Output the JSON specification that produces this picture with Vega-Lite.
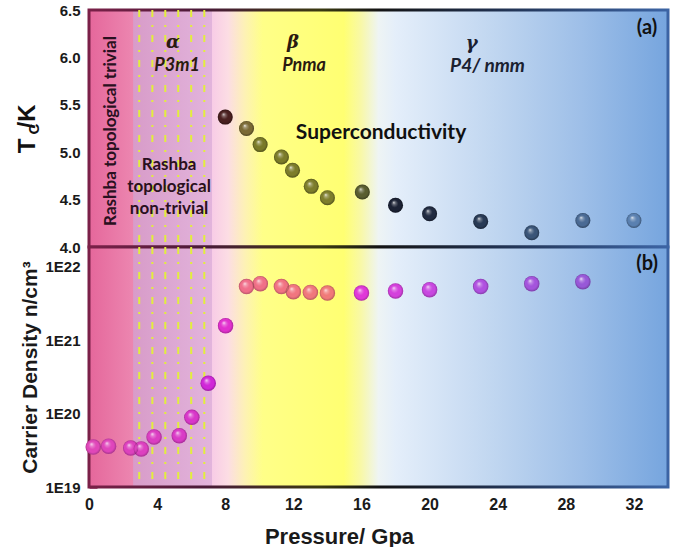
{
  "$schema": "https://vega.github.io/schema/vega-lite/v6.json",
  "padding": {"left": 16, "top": 3, "right": 5, "bottom": 0},
  "background": "white",
  "spacing": 0,
  "bounds": "flush",
  "resolve": {"scale": {"color": "independent"}},
  "config": {"view": {"stroke": null}},
  "datasets": {
    "tc": [
      {"P": 8.0, "Tc": 5.37}, {"P": 9.25, "Tc": 5.25}, {"P": 10.05, "Tc": 5.08},
      {"P": 11.3, "Tc": 4.95}, {"P": 11.95, "Tc": 4.81}, {"P": 13.05, "Tc": 4.64},
      {"P": 14.0, "Tc": 4.52}, {"P": 16.05, "Tc": 4.58}, {"P": 18.0, "Tc": 4.44},
      {"P": 20.0, "Tc": 4.35}, {"P": 23.0, "Tc": 4.27}, {"P": 26.0, "Tc": 4.15},
      {"P": 29.0, "Tc": 4.28}, {"P": 32.0, "Tc": 4.28}
    ],
    "cd": [
      {"P": 0.25, "n": 3.5e19}, {"P": 1.15, "n": 3.6e19}, {"P": 2.45, "n": 3.4e19},
      {"P": 3.07, "n": 3.3e19}, {"P": 3.82, "n": 4.8e19}, {"P": 5.3, "n": 5.0e19},
      {"P": 6.04, "n": 8.9e19}, {"P": 7.0, "n": 2.6e20}, {"P": 8.02, "n": 1.58e21},
      {"P": 9.25, "n": 5.4e21}, {"P": 10.06, "n": 5.9e21}, {"P": 11.3, "n": 5.4e21},
      {"P": 12.0, "n": 4.6e21}, {"P": 13.0, "n": 4.5e21}, {"P": 14.0, "n": 4.4e21},
      {"P": 16.0, "n": 4.4e21}, {"P": 18.0, "n": 4.7e21}, {"P": 20.0, "n": 4.9e21},
      {"P": 23.0, "n": 5.4e21}, {"P": 26.0, "n": 5.9e21}, {"P": 29.0, "n": 6.3e21}
    ],
    "dash": [{"P": 2.95}, {"P": 3.72}, {"P": 4.48}, {"P": 5.24}, {"P": 6.0}, {"P": 6.77}],
    "one": [{}]
  },
  "vconcat": [
    {
      "width": 579,
      "height": 237,
      "resolve": {"axis": {"x": "independent", "y": "independent"}},
      "layer": [
        {
          "data": {"name": "one"},
          "mark": {
            "type": "rect",
            "fill": {"gradient": "linear", "x1": 0, "y1": 0, "x2": 1, "y2": 0, "stops": [
              {"offset": 0, "color": "#e5679b"}, {"offset": 0.076, "color": "#ec86b0"},
              {"offset": 0.077, "color": "#d89cc9"}, {"offset": 0.212, "color": "#e2b4dc"},
              {"offset": 0.213, "color": "#f8cce6"}, {"offset": 0.24, "color": "#fcdde4"},
              {"offset": 0.27, "color": "#fdf2b4"}, {"offset": 0.30, "color": "#ffff88"},
              {"offset": 0.44, "color": "#ffff72"}, {"offset": 0.47, "color": "#f8f8a8"},
              {"offset": 0.50, "color": "#eef4f4"}, {"offset": 0.53, "color": "#e4eefa"},
              {"offset": 0.70, "color": "#c0d6f0"}, {"offset": 0.85, "color": "#9ebfe8"},
              {"offset": 1, "color": "#76a5de"}]},
            "stroke": {"gradient": "linear", "x1": 0, "y1": 0, "x2": 1, "y2": 0, "stops": [
              {"offset": 0, "color": "#7a2048"}, {"offset": 0.2, "color": "#4a1a38"},
              {"offset": 0.4, "color": "#3a3a10"}, {"offset": 0.5, "color": "#141414"},
              {"offset": 0.7, "color": "#20304e"}, {"offset": 1, "color": "#3c64a4"}]},
            "strokeWidth": 3
          },
          "encoding": {
            "x": {"datum": 0, "type": "quantitative", "axis": null},
            "x2": {"datum": 34},
            "y": {"datum": 4.0, "type": "quantitative", "axis": null},
            "y2": {"datum": 6.5}
          }
        },
        {
          "data": {"name": "dash"},
          "mark": {"type": "rule", "stroke": "#e2ee3c", "strokeWidth": 2, "strokeDash": [7, 8, 2, 8]},
          "encoding": {"x": {"field": "P", "type": "quantitative", "axis": null}}
        },
        {
          "data": {"name": "one"},
          "mark": {"type": "text", "angle": 270, "font": "Lato", "fontWeight": "bold", "fontSize": 17, "color": "#2a1020", "align": "center", "baseline": "middle"},
          "encoding": {"x": {"datum": 1.32, "type": "quantitative", "axis": null}, "y": {"datum": 5.224, "type": "quantitative", "axis": null}, "text": {"value": "Rashba  topological  trivial"}}
        },
        {
          "data": {"name": "one"},
          "mark": {"type": "text", "font": "Lato", "fontWeight": "bold", "fontSize": 17, "color": "#2a1020", "align": "center", "baseline": "middle", "lineBreak": "\n", "lineHeight": 22},
          "encoding": {"x": {"datum": 4.7, "type": "quantitative", "axis": null}, "y": {"datum": 4.865, "type": "quantitative", "axis": null}, "text": {"value": "Rashba\ntopological\nnon-trivial"}}
        },
        {
          "data": {"name": "one"},
          "mark": {"type": "text", "font": "DejaVu Serif", "fontWeight": "bold", "fontStyle": "italic", "fontSize": 18, "color": "#2a1a10", "align": "center", "baseline": "middle"},
          "encoding": {"x": {"datum": 4.93, "type": "quantitative", "axis": null}, "y": {"datum": 6.15, "type": "quantitative", "axis": null}, "text": {"value": "α"}}
        },
        {
          "data": {"name": "one"},
          "mark": {"type": "text", "font": "Lato", "fontWeight": "bold", "fontStyle": "italic", "fontSize": 18, "color": "#2a1a10", "align": "center", "baseline": "middle"},
          "encoding": {"x": {"datum": 5.17, "type": "quantitative", "axis": null}, "y": {"datum": 5.91, "type": "quantitative", "axis": null}, "text": {"value": "P3m1"}}
        },
        {
          "data": {"name": "one"},
          "mark": {"type": "text", "font": "DejaVu Serif", "fontWeight": "bold", "fontStyle": "italic", "fontSize": 18, "color": "#2a1a10", "align": "center", "baseline": "middle"},
          "encoding": {"x": {"datum": 11.98, "type": "quantitative", "axis": null}, "y": {"datum": 6.15, "type": "quantitative", "axis": null}, "text": {"value": "β"}}
        },
        {
          "data": {"name": "one"},
          "mark": {"type": "text", "font": "Lato", "fontWeight": "bold", "fontStyle": "italic", "fontSize": 18, "color": "#2a1a10", "align": "center", "baseline": "middle"},
          "encoding": {"x": {"datum": 12.63, "type": "quantitative", "axis": null}, "y": {"datum": 5.91, "type": "quantitative", "axis": null}, "text": {"value": "Pnma"}}
        },
        {
          "data": {"name": "one"},
          "mark": {"type": "text", "font": "DejaVu Serif", "fontWeight": "bold", "fontStyle": "italic", "fontSize": 18, "color": "#1a2030", "align": "center", "baseline": "middle"},
          "encoding": {"x": {"datum": 22.47, "type": "quantitative", "axis": null}, "y": {"datum": 6.14, "type": "quantitative", "axis": null}, "text": {"value": "γ"}}
        },
        {
          "data": {"name": "one"},
          "mark": {"type": "text", "font": "Lato", "fontWeight": "bold", "fontStyle": "italic", "fontSize": 19, "color": "#1a2030", "align": "center", "baseline": "middle"},
          "encoding": {"x": {"datum": 23.4, "type": "quantitative", "axis": null}, "y": {"datum": 5.91, "type": "quantitative", "axis": null}, "text": {"value": "P4/ nmm"}}
        },
        {
          "data": {"name": "one"},
          "mark": {"type": "text", "font": "Lato", "fontWeight": "bold", "fontSize": 21, "color": "#111111", "align": "center", "baseline": "middle"},
          "encoding": {"x": {"datum": 17.15, "type": "quantitative", "axis": null}, "y": {"datum": 5.2, "type": "quantitative", "axis": null}, "text": {"value": "Superconductivity"}}
        },
        {
          "data": {"name": "one"},
          "mark": {"type": "text", "font": "Lato", "fontWeight": "bold", "fontSize": 20, "color": "#111111", "align": "center", "baseline": "middle"},
          "encoding": {"x": {"datum": 32.77, "type": "quantitative", "axis": null}, "y": {"datum": 6.31, "type": "quantitative", "axis": null}, "text": {"value": "(a)"}}
        },
        {
          "data": {"name": "one"},
          "mark": {"type": "text", "angle": 270, "font": "Liberation Sans", "fontWeight": "bold", "fontSize": 24, "color": "#111111", "align": "center", "baseline": "middle"},
          "encoding": {"x": {"datum": -3.58, "type": "quantitative", "axis": null}, "y": {"datum": 5.065, "type": "quantitative", "axis": null}, "text": {"value": "T"}}
        },
        {
          "data": {"name": "one"},
          "mark": {"type": "text", "angle": 270, "font": "Liberation Sans", "fontWeight": "bold", "fontSize": 15, "color": "#111111", "align": "center", "baseline": "middle"},
          "encoding": {"x": {"datum": -3.23, "type": "quantitative", "axis": null}, "y": {"datum": 5.245, "type": "quantitative", "axis": null}, "text": {"value": "C"}}
        },
        {
          "data": {"name": "one"},
          "mark": {"type": "text", "angle": 270, "font": "Liberation Sans", "fontWeight": "bold", "fontSize": 24, "color": "#111111", "align": "center", "baseline": "middle"},
          "encoding": {"x": {"datum": -3.58, "type": "quantitative", "axis": null}, "y": {"datum": 5.377, "type": "quantitative", "axis": null}, "text": {"value": "/K"}}
        },
        {
          "data": {"name": "tc"},
          "mark": {"type": "circle", "size": 225, "opacity": 1},
          "encoding": {
            "x": {"field": "P", "type": "quantitative", "scale": {"domain": [0, 34], "nice": false, "zero": false}, "axis": null},
            "y": {"field": "Tc", "type": "quantitative", "scale": {"domain": [4, 6.5], "nice": false, "zero": false},
              "axis": {
                "orient": "left",
                "values": [4, 4.5, 5, 5.5, 6, 6.5],
                "format": ".1f",
                "tickSize": -8,
                "tickWidth": 2.5, "tickColor": "#8a2c58", "domain": false, "grid": false,
                "labelFont": "Liberation Sans", "labelFontWeight": "bold", "labelFontSize": 15, "labelColor": "#1a1a1a",
                "labelPadding": 17, "labelOverlap": false, "labelBound": false, "labelFlush": false, "title": null
              }},
            "color": {"field": "P", "type": "quantitative", "legend": null,
              "scale": {"domain": [8, 9.25, 10, 14, 16, 18, 23, 26, 32],
                "range": ["#4a2020", "#7a6a35", "#7a7a28", "#7e7e2c", "#5e5e30", "#1c2234", "#283a55", "#3a5578", "#5a80b0"]}}
          }
        },
        {
          "data": {"name": "tc"},
          "mark": {"type": "circle", "size": 225, "opacity": 1,
            "fill": {"gradient": "radial", "x1": 0.38, "y1": 0.3, "r1": 0, "x2": 0.5, "y2": 0.5, "r2": 0.5, "stops": [
              {"offset": 0, "color": "rgba(255,255,255,0.85)"}, {"offset": 0.22, "color": "rgba(255,255,255,0.3)"},
              {"offset": 0.5, "color": "rgba(255,255,255,0)"}, {"offset": 0.78, "color": "rgba(0,0,0,0)"},
              {"offset": 1, "color": "rgba(0,0,0,0.35)"}]}},
          "encoding": {
            "x": {"field": "P", "type": "quantitative", "axis": null},
            "y": {"field": "Tc", "type": "quantitative",
              "axis": {
                "orient": "left",
                "values": [4.25, 4.75, 5.25, 5.75, 6.25],
                "labels": false, "tickSize": -5,
                "tickWidth": 2, "tickColor": "#8a2c58", "domain": false, "grid": false, "title": null
              }}
          }
        }
      ]
    },
    {
      "width": 579,
      "height": 240,
      "resolve": {"axis": {"x": "independent", "y": "independent"}},
      "layer": [
        {
          "data": {"name": "one"},
          "mark": {
            "type": "rect",
            "fill": {"gradient": "linear", "x1": 0, "y1": 0, "x2": 1, "y2": 0, "stops": [
              {"offset": 0, "color": "#e5679b"}, {"offset": 0.076, "color": "#ec86b0"},
              {"offset": 0.077, "color": "#d89cc9"}, {"offset": 0.212, "color": "#e2b4dc"},
              {"offset": 0.213, "color": "#f8cce6"}, {"offset": 0.24, "color": "#fcdde4"},
              {"offset": 0.27, "color": "#fdf2b4"}, {"offset": 0.30, "color": "#ffff88"},
              {"offset": 0.44, "color": "#ffff72"}, {"offset": 0.47, "color": "#f8f8a8"},
              {"offset": 0.50, "color": "#eef4f4"}, {"offset": 0.53, "color": "#e4eefa"},
              {"offset": 0.70, "color": "#c0d6f0"}, {"offset": 0.85, "color": "#9ebfe8"},
              {"offset": 1, "color": "#76a5de"}]},
            "stroke": {"gradient": "linear", "x1": 0, "y1": 0, "x2": 1, "y2": 0, "stops": [
              {"offset": 0, "color": "#7a2048"}, {"offset": 0.2, "color": "#4a1a38"},
              {"offset": 0.4, "color": "#3a3a10"}, {"offset": 0.5, "color": "#141414"},
              {"offset": 0.7, "color": "#20304e"}, {"offset": 1, "color": "#3c64a4"}]},
            "strokeWidth": 3
          },
          "encoding": {
            "x": {"datum": 0, "type": "quantitative", "axis": null},
            "x2": {"datum": 34},
            "y": {"datum": 1e19, "type": "quantitative", "axis": null},
            "y2": {"datum": 1.87e22}
          }
        },
        {
          "data": {"name": "dash"},
          "mark": {"type": "rule", "stroke": "#e2ee3c", "strokeWidth": 2, "strokeDash": [7, 8, 2, 8]},
          "encoding": {"x": {"field": "P", "type": "quantitative", "axis": null}}
        },
        {
          "data": {"name": "one"},
          "mark": {"type": "text", "font": "Lato", "fontWeight": "bold", "fontSize": 20, "color": "#111111", "align": "center", "baseline": "middle"},
          "encoding": {"x": {"datum": 32.77, "type": "quantitative", "axis": null}, "y": {"datum": 1.1e22, "type": "quantitative", "axis": null}, "text": {"value": "(b)"}}
        },
        {
          "data": {"name": "cd"},
          "mark": {"type": "circle", "size": 240, "opacity": 1},
          "encoding": {
            "x": {"field": "P", "type": "quantitative", "scale": {"domain": [0, 34], "nice": false, "zero": false},
              "axis": {
                "orient": "bottom",
                "values": [0, 4, 8, 12, 16, 20, 24, 28, 32],
                "tickSize": -8,
                "tickWidth": 2.5, "tickColor": "#3a2530", "domain": false, "grid": false,
                "labelFont": "Liberation Sans", "labelFontWeight": "bold", "labelFontSize": 16, "labelColor": "#1a1a1a",
                "labelPadding": 17, "labelOverlap": false, "labelBound": false, "labelFlush": false,
                "title": "Pressure/ Gpa", "titleFont": "Liberation Sans", "titleFontWeight": "bold", "titleFontSize": 22,
                "titleColor": "#1a1a1a", "titleX": 250, "titleAlign": "center", "titlePadding": 14
              }},
            "y": {"field": "n", "type": "quantitative", "scale": {"type": "log", "domain": [1e19, 1.87e22], "nice": false},
              "axis": {
                "orient": "left",
                "values": [1e19, 1e20, 1e21, 1e22],
                "labelExpr": "'1E' + round(log(datum.value)/LN10)",
                "tickSize": -8,
                "tickWidth": 2.5, "tickColor": "#8a2c58", "domain": false, "grid": false,
                "labelFont": "Liberation Sans", "labelFontWeight": "bold", "labelFontSize": 15, "labelColor": "#1a1a1a",
                "labelPadding": 17, "labelOverlap": false, "labelBound": false, "labelFlush": false,
                "title": "Carrier Density n/cm³", "titleFont": "Liberation Sans", "titleFontWeight": "bold", "titleFontSize": 21,
                "titleColor": "#1a1a1a", "titlePadding": 4
              }},
            "color": {"field": "P", "type": "quantitative", "legend": null,
              "scale": {"domain": [0, 6, 7, 8, 9.25, 14, 16, 20, 23, 29],
                "range": ["#e048b8", "#d838c8", "#d028d8", "#e030d0", "#f06e8a", "#f07a78", "#e038d8", "#c848e0", "#b050e0", "#9858d8"]}}
          }
        },
        {
          "data": {"name": "cd"},
          "mark": {"type": "circle", "size": 240, "opacity": 1,
            "fill": {"gradient": "radial", "x1": 0.38, "y1": 0.3, "r1": 0, "x2": 0.5, "y2": 0.5, "r2": 0.5, "stops": [
              {"offset": 0, "color": "rgba(255,255,255,0.85)"}, {"offset": 0.22, "color": "rgba(255,255,255,0.3)"},
              {"offset": 0.5, "color": "rgba(255,255,255,0)"}, {"offset": 0.78, "color": "rgba(0,0,0,0)"},
              {"offset": 1, "color": "rgba(0,0,0,0.25)"}]}},
          "encoding": {
            "x": {"field": "P", "type": "quantitative",
              "axis": {
                "orient": "bottom",
                "values": [2, 6, 10, 14, 18, 22, 26, 30],
                "labels": false, "tickSize": -4,
                "tickWidth": 2.5, "tickColor": "#3a2530", "domain": false, "grid": false, "title": null
              }},
            "y": {"field": "n", "type": "quantitative",
              "axis": {
                "orient": "left",
                "values": [2e19, 3e19, 4e19, 5e19, 6e19, 7e19, 8e19, 9e19, 2e20, 3e20, 4e20, 5e20, 6e20, 7e20, 8e20, 9e20, 2e21, 3e21, 4e21, 5e21, 6e21, 7e21, 8e21, 9e21],
                "labels": false, "tickSize": -5,
                "tickWidth": 2, "tickColor": "#8a2c58", "domain": false, "grid": false, "title": null
              }}
          }
        }
      ]
    }
  ]
}
